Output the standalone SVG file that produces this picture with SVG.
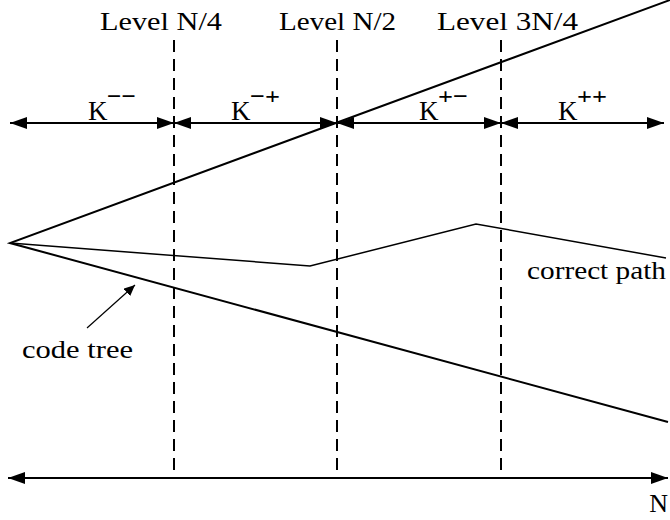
<svg xmlns="http://www.w3.org/2000/svg" width="670" height="520" viewBox="0 0 670 520">
<style>
text{fill:#000;font-family:"Liberation Serif","DejaVu Serif","Times New Roman",serif}
.lbl{font-size:26px}
.k{font-size:27px}
.sup{font-size:24px;font-weight:bold}
.ln{stroke:#000;fill:none;stroke-width:2}
.dash{stroke:#000;stroke-width:2;stroke-dasharray:12,7;fill:none}
</style>
<defs>
<marker id="ah" markerWidth="18" markerHeight="12" refX="17" refY="6" orient="auto-start-reverse" markerUnits="userSpaceOnUse">
<path d="M0,0 L17,6 L0,12 Z" fill="#000"/>
</marker>
<marker id="as" markerWidth="12" markerHeight="10" refX="11" refY="5" orient="auto" markerUnits="userSpaceOnUse">
<path d="M0,0 L11,5 L0,10 Z" fill="#000"/>
</marker>
</defs>
<g id="levels">
<line class="dash" x1="174" y1="40" x2="174" y2="472"/>
<line class="dash" x1="337" y1="40" x2="337" y2="472"/>
<line class="dash" x1="501" y1="40" x2="501" y2="472"/>
<text class="lbl" x="100" y="30" textLength="122" lengthAdjust="spacingAndGlyphs">Level N/4</text>
<text class="lbl" x="279" y="30" textLength="117" lengthAdjust="spacingAndGlyphs">Level N/2</text>
<text class="lbl" x="437" y="30" textLength="141" lengthAdjust="spacingAndGlyphs">Level 3N/4</text>
</g>
<g id="tree">
<polyline class="ln" points="670,0 10,243 668,422"/>
<polyline points="10,243 310,266 476,224 666,258" stroke="#000" stroke-width="1.5" fill="none"/>
<text class="lbl" x="527" y="279" textLength="139" lengthAdjust="spacingAndGlyphs">correct path</text>
<text class="lbl" x="22" y="358" textLength="111" lengthAdjust="spacingAndGlyphs">code tree</text>
</g>
<g id="connectors">
<line class="ln" x1="10" y1="123" x2="174" y2="123" marker-start="url(#ah)" marker-end="url(#ah)"/>
<line class="ln" x1="174" y1="123" x2="337" y2="123" marker-start="url(#ah)" marker-end="url(#ah)"/>
<line class="ln" x1="337" y1="123" x2="501" y2="123" marker-start="url(#ah)" marker-end="url(#ah)"/>
<line class="ln" x1="501" y1="123" x2="664" y2="123" marker-start="url(#ah)" marker-end="url(#ah)"/>
<line class="ln" x1="8" y1="478" x2="668" y2="478" marker-start="url(#ah)" marker-end="url(#ah)"/>
<line x1="87" y1="328" x2="135" y2="285" stroke="#000" stroke-width="1.2" marker-end="url(#as)"/>
</g>
<g id="klabels">
<text class="k" x="88" y="120">K</text><text class="sup" x="107" y="104" textLength="29" lengthAdjust="spacingAndGlyphs">−−</text>
<text class="k" x="231" y="120">K</text><text class="sup" x="250" y="104" textLength="30" lengthAdjust="spacingAndGlyphs">−+</text>
<text class="k" x="419" y="120">K</text><text class="sup" x="438" y="104" textLength="30" lengthAdjust="spacingAndGlyphs">+−</text>
<text class="k" x="558" y="120">K</text><text class="sup" x="577" y="104" textLength="30" lengthAdjust="spacingAndGlyphs">++</text>
<text class="lbl" x="668" y="512" text-anchor="end">N</text>
</g>
</svg>
